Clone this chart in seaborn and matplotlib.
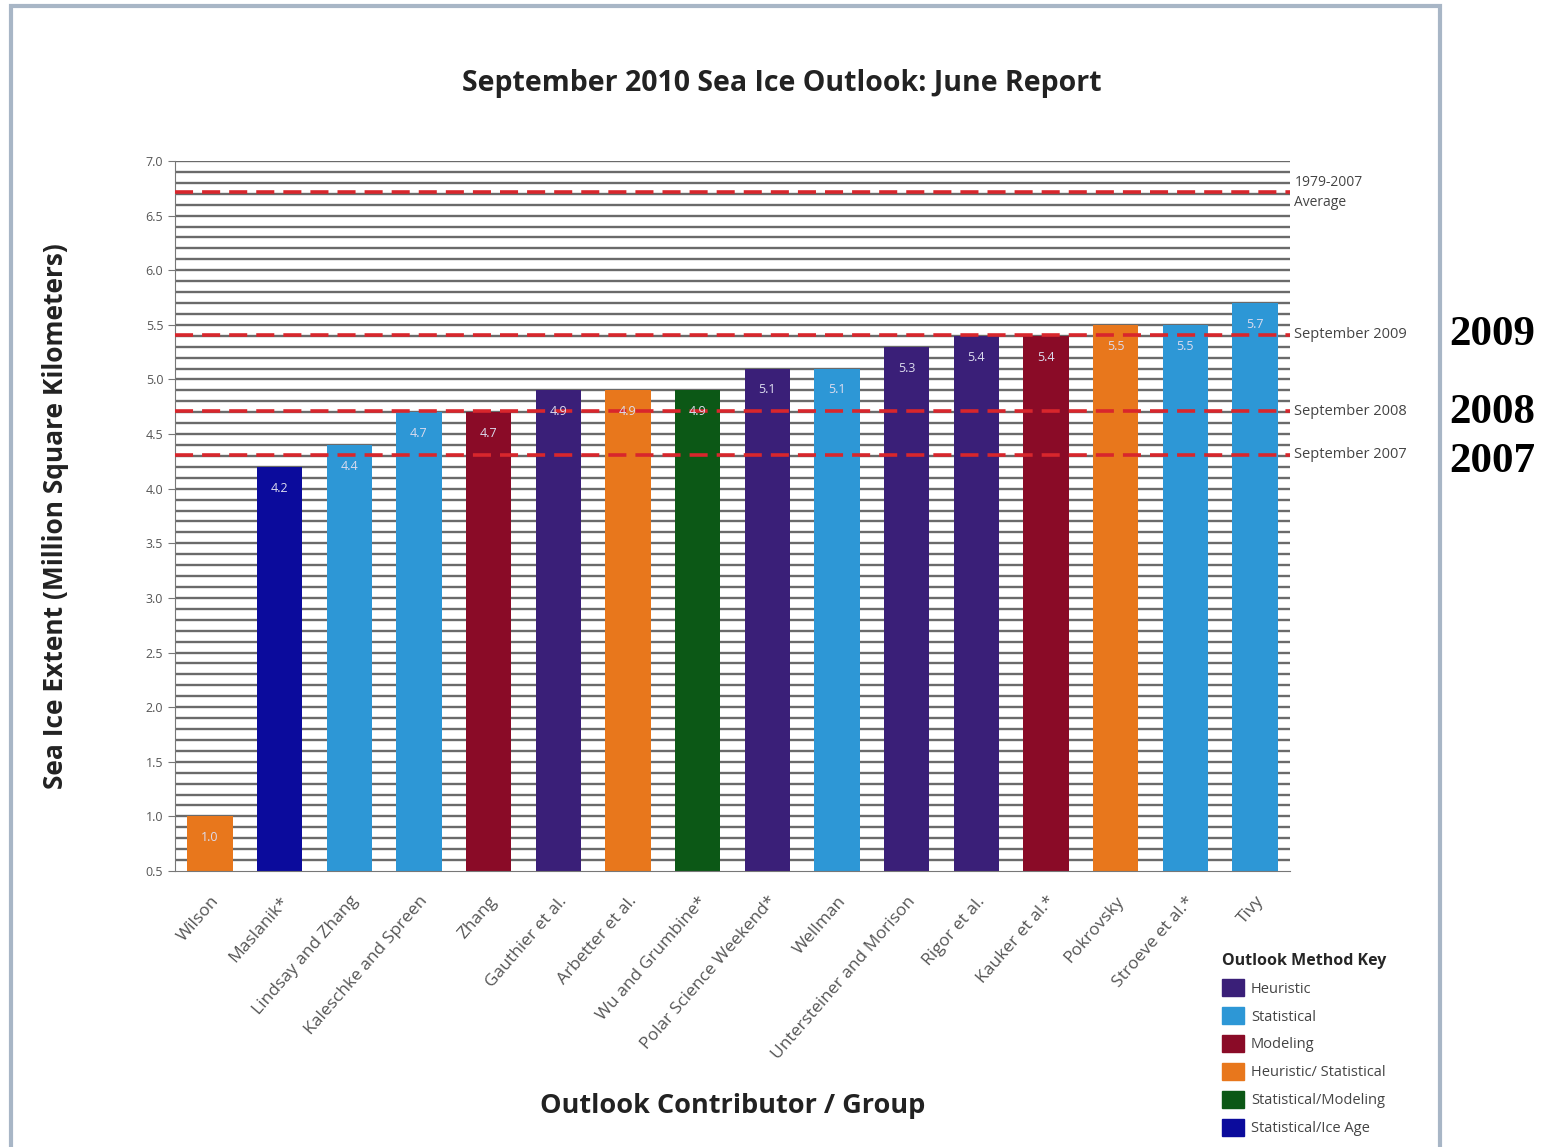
import pandas as pd
import matplotlib.pyplot as plt
import matplotlib.patches as mpatches
import seaborn as sns
import numpy as np

# ==========================================
# DATA
# ==========================================

contributors = [
    "Wilson", "Maslanik*", "Lindsay and Zhang", "Kaleschke and Spreen",
    "Zhang", "Gauthier et al.", "Arbetter et al.", "Wu and Grumbine*",
    "Polar Science Weekend*", "Wellman", "Untersteiner and Morison",
    "Rigor et al.", "Kauker et al.*", "Pokrovsky", "Stroeve et al.*", "Tivy",
]
extent = [1.0, 4.2, 4.4, 4.7, 4.7, 4.9, 4.9, 4.9, 5.1, 5.1, 5.3, 5.4, 5.4, 5.5, 5.5, 5.7]
method = [
    "Heuristic/ Statistical", "Statistical/Ice Age", "Statistical", "Statistical",
    "Modeling", "Heuristic", "Heuristic/ Statistical", "Statistical/Modeling",
    "Heuristic", "Statistical", "Heuristic", "Heuristic", "Modeling",
    "Heuristic/ Statistical", "Statistical", "Statistical",
]

method_keys = ["Heuristic", "Statistical", "Modeling", "Heuristic/ Statistical",
               "Statistical/Modeling", "Statistical/Ice Age"]
method_colors = ["#3A1F78", "#2D97D6", "#8A0B27", "#E8771C", "#0C5816", "#0B0B9C"]

ref_values = [6.72, 5.41, 4.71, 4.31]
ref_labels = ["1979-2007\nAverage", "September 2009", "September 2008", "September 2007"]
side_years = ["2009", "2008", "2007"]

df = pd.DataFrame({"Contributor": contributors, "Extent": extent, "Method": method})
palette = dict(zip(method_keys, method_colors))

# ==========================================
# PLOT
# ==========================================

sns.set_style("white")
plt.rcParams["font.family"] = ["Open Sans", "DejaVu Sans"]

fig = plt.figure(figsize=(15.52, 11.47), dpi=100)
ax = fig.add_axes([0.1128, 0.2406, 0.7183, 0.6190])

# grid every 0.1
for v in np.arange(0.6, 7.01, 0.1):
    ax.axhline(v, color="#6A6A6A", lw=1.7, zorder=0)

sns.barplot(
    data=df,
    x="Contributor",
    y="Extent",
    hue="Method",
    order=contributors,
    hue_order=method_keys,
    palette=palette,
    dodge=False,
    width=0.65,
    saturation=1,
    linewidth=0,
    legend=False,
    ax=ax,
    zorder=2,
)

for cont in ax.containers:
    ax.bar_label(cont, fmt="%.1f", padding=-20, color="#DCDCEE",
                 fontsize=9, zorder=4)

# reference dashed lines
for v in ref_values:
    ax.axhline(v, color="#D8262C", lw=2.6, ls=(0, (5, 2.5)), zorder=3)

ax.set_ylim(0.5, 7.0)
ax.set_xlim(-0.5, len(contributors) - 0.5)
ax.set_yticks(np.arange(0.5, 7.01, 0.5))
ax.set_yticklabels([f"{v:.1f}" for v in np.arange(0.5, 7.01, 0.5)],
                   fontsize=9, color="#555555")
ax.set_xticks(np.arange(-0.5, len(contributors), 1.0), minor=True)
ax.tick_params(axis="x", which="major", length=0, pad=16)
ax.tick_params(axis="x", which="minor", length=4, color="#777777")
ax.tick_params(axis="y", length=5, color="#777777", left=True)
ax.set_xticklabels(contributors, rotation=49, ha="right",
                   rotation_mode="anchor", fontsize=12.5, color="#555555")

for s in ["top", "right"]:
    ax.spines[s].set_visible(False)
ax.spines["left"].set_color("#777777")
ax.spines["bottom"].set_color("#777777")

ax.set_xlabel("Outlook Contributor / Group", fontsize=19.5, fontweight="bold",
              color="#222222", labelpad=22)
ax.set_ylabel("Sea Ice Extent (Million Square Kilometers)", fontsize=19,
              fontweight="bold", color="#222222", labelpad=55)

# right side labels
for v, lab in zip(ref_values, ref_labels):
    if "\n" in lab:
        ax.text(1.004, v - 0.01, lab, transform=ax.get_yaxis_transform(),
                fontsize=10, color="#444444", va="center", ha="left", linespacing=1.5)
    else:
        ax.text(1.004, v, lab, transform=ax.get_yaxis_transform(),
                fontsize=10.5, color="#444444", va="center", ha="left")

year_offsets = [-0.09, -0.11, -0.16]
for v, yr, off in zip(ref_values[1:], side_years, year_offsets):
    ax.text(1.143, v + off, yr, transform=ax.get_yaxis_transform(),
            fontsize=31, fontweight="bold", family="Liberation Serif",
            color="black", va="baseline", ha="left")

fig.text(0.504, 0.927, "September 2010 Sea Ice Outlook: June Report",
         ha="center", va="center", fontsize=20.5, fontweight="bold", color="#222222")

# legend
handles = [mpatches.Patch(color=c, label=k) for k, c in zip(method_keys, method_colors)]
leg = fig.legend(handles=handles, title="Outlook Method Key", loc="upper left",
                 bbox_to_anchor=(0.7835, 0.1745), frameon=False, fontsize=10.5,
                 title_fontproperties={"weight": "bold", "size": 11.5},
                 handlelength=1.5, handleheight=1.4, labelspacing=0.73,
                 handletextpad=0.5, borderaxespad=0)
leg._legend_box.align = "left"
for t in leg.get_texts():
    t.set_color("#444444")

# outer frame
frame = mpatches.Rectangle((0.007, -0.01), 0.921, 1.005, transform=fig.transFigure,
                           fill=False, edgecolor="#A8B6C6", lw=3)
fig.patches.append(frame)

plt.savefig("out.png", dpi=100)
plt.close()
